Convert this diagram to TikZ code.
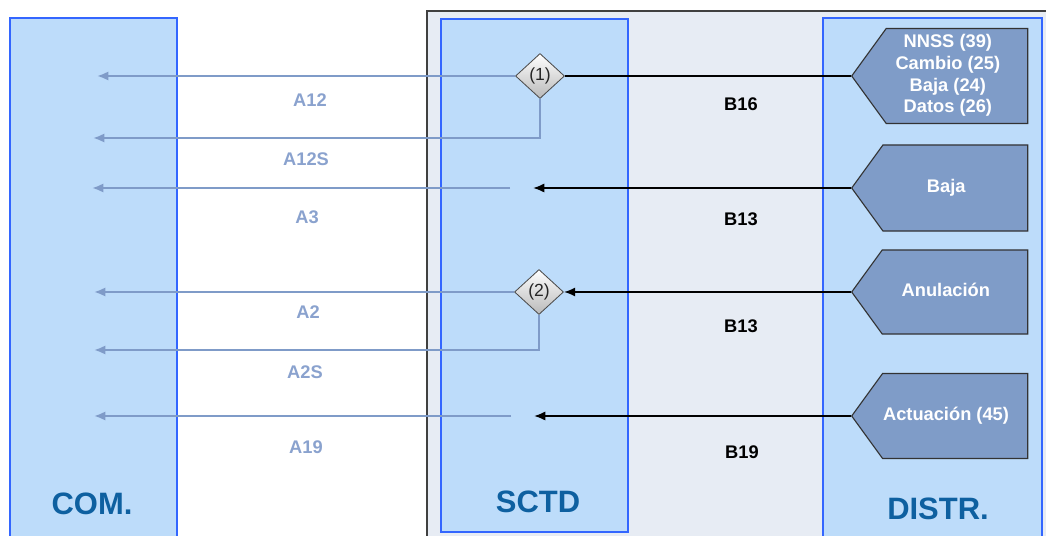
\documentclass[tikz,border=0pt]{standalone}
\usepackage{fontspec}
\setmainfont{Liberation Sans}
\usetikzlibrary{shapes.geometric,shapes.symbols,arrows.meta}

\definecolor{colfill}{RGB}{189,220,250}
\definecolor{colborder}{RGB}{51,102,255}
\definecolor{zonefill}{RGB}{231,236,244}
\definecolor{msgfill}{RGB}{127,156,200}
\definecolor{aline}{RGB}{127,155,200}
\definecolor{alabel}{RGB}{138,162,206}
\definecolor{titlecol}{RGB}{14,96,160}

% text of a message box, kept a little left of the box centre
\newcommand{\msgtext}[1]{\begin{tabular}{@{}c@{\hspace{13pt}}}#1\end{tabular}}

\tikzset{
  column/.style={draw=colborder, line width=1.4pt, fill=colfill},
  zone/.style={draw=black!75, line width=0.8pt, fill=zonefill},
  title/.style={text=titlecol, font=\bfseries\fontsize{22}{26}\selectfont},
  msgbox/.style={signal, signal to=west, signal from=nowhere, signal pointer angle=108,
    draw=black!80, line width=0.8pt, fill=msgfill, text=white, inner sep=0pt,
    font=\bfseries\fontsize{13}{15.4}\selectfont, minimum width=4.4cm, anchor=west},
  choice/.style={diamond, draw=gray!60!black, line width=0.6pt, top color=white,
    bottom color=gray!55, minimum width=1.225cm, minimum height=1.125cm, inner sep=0pt,
    font=\fontsize{12.5}{14}\selectfont, text=black!85},
  aarrow/.style={draw=aline, line width=1.5pt, -{Latex[length=8pt,width=6.5pt]}},
  barrow/.style={draw=black, line width=1.3pt, -{Latex[length=8pt,width=6.5pt]}},
  alab/.style={text=alabel, font=\bfseries\fontsize{13}{15}\selectfont},
  blab/.style={text=black, font=\bfseries\fontsize{13}{15}\selectfont}
}

\begin{document}
\begin{tikzpicture}[x=0.025cm, y=-0.025cm]
  \useasboundingbox (0,0) rectangle (1046,536);
  \clip (0,0) rectangle (1046,536);

  % Background areas
  \draw[zone] (427,11) rectangle (1060,550);
  \draw[column] (10,18) rectangle (177,550);
  \draw[column] (441,19) rectangle (628,532);
  \draw[column] (823,18) rectangle (1042,550);

  \node(com) [title] at (92,504) {COM.};
  \node(sctd) [title] at (538,502) {SCTD};
  \node(distr) [title] at (938,509) {DISTR.};

  % DISTR. messages
  \node(nnss) [msgbox, minimum height=2.375cm] at (851,76) {\msgtext{NNSS (39)\\Cambio (25)\\Baja (24)\\Datos (26)}};
  \node(baja) [msgbox, minimum height=2.15cm] at (851,188) {\msgtext{Baja}};
  \node(anul) [msgbox, minimum height=2.1cm] at (851,292) {\msgtext{Anulación}};
  \node(actu) [msgbox, minimum height=2.125cm] at (851,416) {\msgtext{Actuación (45)}};

  % SCTD
  \node(d1) [choice] at (540,76) {(1)};
  \node(d2) [choice] at (539,292) {(2)};

  \coordinate(b13end) at (533,188);
  \coordinate(b19end) at (534,416);
  \coordinate(a3start) at (510,188);
  \coordinate(a19start) at (511,416);

  % COM.
  \coordinate(a12end) at (97,76);
  \coordinate(a12send) at (93,138);
  \coordinate(a3end) at (92,188);
  \coordinate(a2end) at (94,292);
  \coordinate(a2send) at (94,350);
  \coordinate(a19end) at (94,416);

  % Draw Lines
  \draw[black, line width=1.3pt] (nnss.west) -- (d1.east);
  \draw[barrow] (baja.west) -- (b13end);
  \draw[barrow] (anul.west) -- (d2.east);
  \draw[barrow] (actu.west) -- (b19end);

  \draw[aarrow] (d1.west) -- (a12end);
  \draw[aarrow] (d1.south) |- (a12send);
  \draw[aarrow] (a3start) -- (a3end);
  \draw[aarrow] (d2.west) -- (a2end);
  \draw[aarrow] (d2.south) |- (a2send);
  \draw[aarrow] (a19start) -- (a19end);

  % Labels
  \node(la12) [alab] at (310,100) {A12};
  \node(la12s) [alab] at (306,159) {A12S};
  \node(la3) [alab] at (307,217) {A3};
  \node(la2) [alab] at (308,312) {A2};
  \node(la2s) [alab] at (305,372) {A2S};
  \node(la19) [alab] at (306,447) {A19};

  \node(lb16) [blab] at (741,104) {B16};
  \node(lb13) [blab] at (741,219) {B13};
  \node(lb13b) [blab] at (741,326) {B13};
  \node(lb19) [blab] at (742,452) {B19};
\end{tikzpicture}
\end{document}
